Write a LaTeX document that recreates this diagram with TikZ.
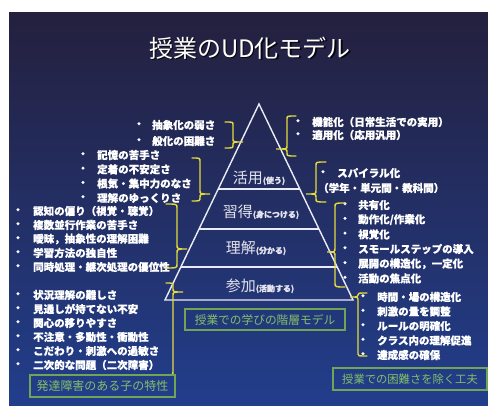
\documentclass[tikz,border=0pt]{standalone}
\usepackage{fontspec}
\newfontfamily\jp{Noto Sans CJK JP}[BoldFeatures={FakeBold=0.8}]
\definecolor{bgtop}{RGB}{36,32,62}
\definecolor{bgmid}{RGB}{40,52,112}
\definecolor{bgbot}{RGB}{34,62,140}
\definecolor{braceyel}{RGB}{228,218,60}
\definecolor{gbox}{RGB}{112,165,88}
\definecolor{gtext}{RGB}{130,192,104}
\definecolor{lvltext}{RGB}{228,228,238}
\definecolor{pyr}{RGB}{235,235,245}
\newcommand\Litem[5]{\node[bul] (#1b) at (#2,#4) {・}; \node[li] (#1) at (#3,#4) {#5};}
\newcommand\ybr[7]{\draw[brc] (#1,#3) .. controls (#2,#3) .. (#2,#3+#7) -- (#2,#5-#7) .. controls (#2,#5) .. (#4,#5) .. controls (#2,#5) .. (#2,#5+#7) -- (#2,#6-#7) .. controls (#2,#6) .. (#1,#6);}
\begin{document}
\begin{tikzpicture}[x=1pt,y=-1pt,
  li/.style={font=\jp\bfseries\fontsize{10.5}{12}\selectfont, text=white, inner sep=0pt, anchor=west},
  bul/.style={font=\jp\bfseries\fontsize{10.5}{12}\selectfont, text=white, inner sep=0pt},
  lvl/.style={text=lvltext, inner sep=0pt, font=\jp},
  grn/.style={draw=gbox, line width=1.1pt, text=gtext, inner sep=0pt},
  brc/.style={draw=braceyel, line width=1.4pt, line cap=round},
  pline/.style={draw=pyr, line width=1.4pt}]
\useasboundingbox (0,0) rectangle (488,406);
\fill[white] (0,0) rectangle (488,406);
\shade[top color=bgtop, middle color=bgmid, bottom color=bgbot] (9,13) rectangle (488,406);
% title
\node[text=black, opacity=0.8, font=\jp\fontsize{24}{24}\selectfont, inner sep=0pt] (titlesh) at (251.5,49.5) {授業のUD化モデル};
\node[text=white, font=\jp\fontsize{24}{24}\selectfont, inner sep=0pt] (title) at (250,48) {授業のUD化モデル};
% pyramid
\coordinate (apex) at (259,104);
\coordinate (bl) at (165,300);
\coordinate (br) at (353,300);
\draw[pline, line join=miter] (bl) -- (apex) -- (br) -- cycle;
\coordinate (d1l) at (218,189); \coordinate (d1r) at (300,189);
\coordinate (d2l) at (199,229); \coordinate (d2r) at (319,229);
\coordinate (d3l) at (181,267); \coordinate (d3r) at (337,267);
\draw[pline] (d1l) -- (d1r);
\draw[pline] (d2l) -- (d2r);
\draw[pline] (d3l) -- (d3r);
\node[lvl] (lv1) at (259,178) {{\fontsize{15}{15}\selectfont 活用}{\bfseries\fontsize{8}{8}\selectfont (使う)}};
\node[lvl] (lv2) at (261,212) {{\fontsize{15}{15}\selectfont 習得}{\bfseries\fontsize{8}{8}\selectfont (身につける)}};
\node[lvl] (lv3) at (256,248) {{\fontsize{15}{15}\selectfont 理解}{\bfseries\fontsize{8}{8}\selectfont (分かる)}};
\node[lvl] (lv4) at (260,286) {{\fontsize{15}{15}\selectfont 参加}{\bfseries\fontsize{8}{8}\selectfont (活動する)}};
% left lists
\Litem{a1}{139}{152}{125}{抽象化の弱さ}
\Litem{a2}{139}{152}{141}{般化の困難さ}
\Litem{b1}{83}{97}{155}{記憶の苦手さ}
\Litem{b2}{83}{97}{169.3}{定着の不安定さ}
\Litem{b3}{83}{97}{183.6}{根気・集中力のなさ}
\Litem{b4}{83}{97}{198}{理解のゆっくりさ}
\Litem{c1}{18}{33}{211}{認知の偏り（視覚・聴覚）}
\Litem{c2}{18}{33}{225}{複数並行作業の苦手さ}
\Litem{c3}{18}{33}{239}{曖昧，抽象性の理解困難}
\Litem{c4}{18}{33}{253}{学習方法の独自性}
\Litem{c5}{18}{33}{267}{同時処理・継次処理の優位性}
\Litem{e1}{18}{33}{295}{状況理解の難しさ}
\Litem{e2}{18}{33}{309}{見通しが持てない不安}
\Litem{e3}{18}{33}{323}{関心の移りやすさ}
\Litem{e4}{18}{33}{337}{不注意・多動性・衝動性}
\Litem{e5}{18}{33}{351}{こだわり・刺激への過敏さ}
\Litem{e6}{18}{33}{365}{二次的な問題（二次障害）}
% right lists
\Litem{f1}{298}{312}{122}{機能化（日常生活での実用）}
\Litem{f2}{298}{312}{135}{適用化（応用汎用）}
\Litem{g1}{323}{337}{173}{スパイラル化}
\node[li] (g2) at (318,188) {（学年・単元間・教科間）};
\Litem{h1}{345}{358}{205}{共有化}
\Litem{h2}{345}{358}{219.7}{動作化/作業化}
\Litem{h3}{345}{358}{234.4}{視覚化}
\Litem{h4}{345}{358}{249}{スモールステップの導入}
\Litem{h5}{345}{358}{263.8}{展開の構造化，一定化}
\Litem{h6}{345}{358}{278.5}{活動の焦点化}
\Litem{k1}{363}{377}{297}{時間・場の構造化}
\Litem{k2}{363}{377}{311.5}{刺激の量を調整}
\Litem{k3}{363}{377}{326}{ルールの明確化}
\Litem{k4}{363}{377}{340.5}{クラス内の理解促進}
\Litem{k5}{363}{377}{355}{達成感の確保}
% braces
\ybr{225}{233}{122}{243}{142}{148}{3}
\ybr{296}{287}{116}{276}{149}{156}{3}
\ybr{192}{200}{158}{210}{194}{201}{3.5}
\ybr{326}{316}{162}{306}{194}{202}{3.5}
\ybr{166}{177}{204}{187}{249}{268}{4}
\ybr{345}{335}{203}{327}{252}{287}{4}
\ybr{166}{173}{283}{183}{292}{375}{3.5}
\ybr{367}{358}{293}{350}{297}{356}{2}
% green boxes
\node[grn, minimum width=145pt, minimum height=22pt, font=\jp\fontsize{12}{12}\selectfont] (gb1) at (102.5,386) {発達障害のある子の特性};
\node[grn, minimum width=160pt, minimum height=21pt, font=\jp\fontsize{11.7}{12}\selectfont] (gb2) at (265,319.5) {授業での学びの階層モデル};
\node[grn, minimum width=154pt, minimum height=22pt, font=\jp\fontsize{11.3}{12}\selectfont] (gb3) at (410,379) {授業での困難さを除く工夫};
\end{tikzpicture}
\end{document}
